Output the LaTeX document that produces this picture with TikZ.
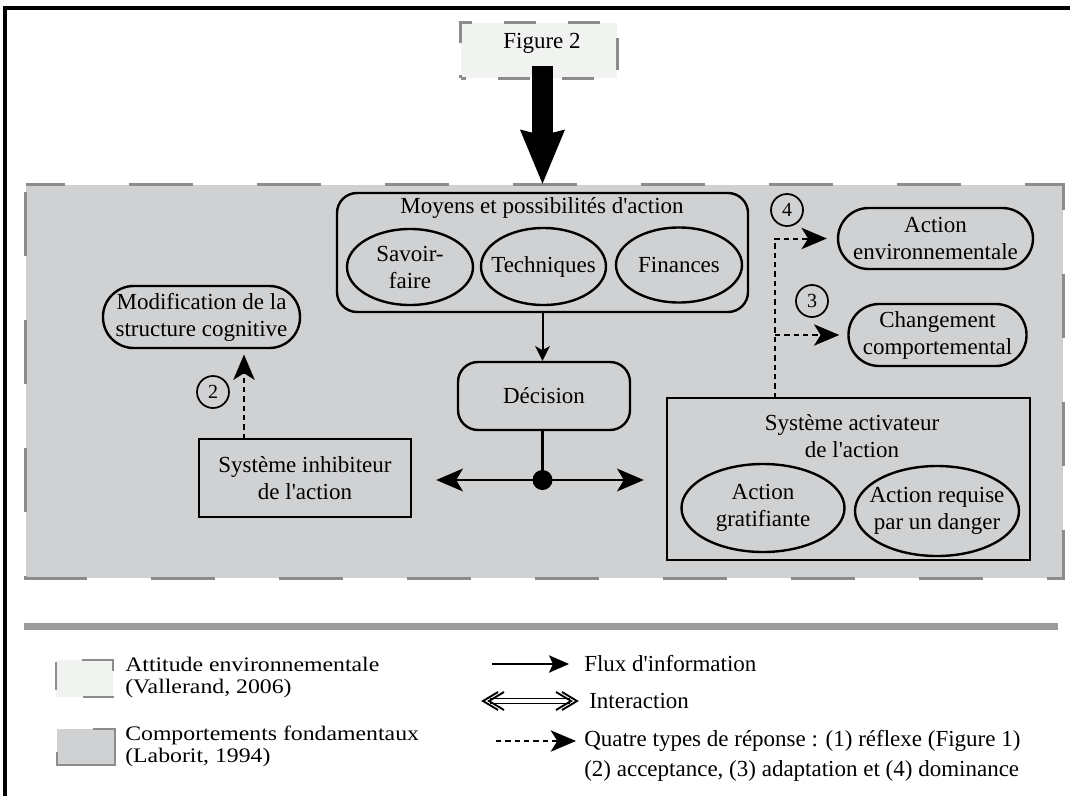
\documentclass[tikz,border=0pt]{standalone}
\usepackage{fontspec}
\setmainfont{Liberation Serif}
\newfontfamily\legfont{Liberation Serif}[FakeStretch=1.15]
\usetikzlibrary{arrows.meta,shapes.geometric,positioning,calc}
\newdimen\px \px=0.75pt

\definecolor{boxgray}{RGB}{208,209,211}
\definecolor{palegray}{RGB}{241,243,241}
\definecolor{dashgray}{RGB}{140,140,140}
\definecolor{sepgray}{RGB}{155,155,155}

\newcommand{\diagfont}{\fontsize{17.25}{20.25}\selectfont}

\tikzset{
  txt/.style={font=\diagfont,align=center,inner sep=0pt},
  boite/.style={txt,draw,line width=1.8pt},
  arrondi/.style={boite,rounded corners=15pt},
  ovale/.style={boite,ellipse,inner xsep=-10pt},
  pilule/.style={boite,rounded corners=23pt,minimum height=62\px},
  numero/.style={draw,circle,line width=1.3pt,minimum size=32\px,inner sep=0pt,font=\fontsize{15}{18}\selectfont},
  grisbord/.style={draw=dashgray,line width=2.25pt},
  flux/.style={line width=1.5pt,-{Stealth[length=11pt,width=11pt,inset=3pt]}},
  fluxlarge/.style={line width=2pt,-{Stealth[length=20pt,width=17pt,inset=5pt]}},
  reponse/.style={line width=1.5pt,dash pattern=on 4pt off 3pt,-{Stealth[length=19pt,width=16pt,inset=5pt]}},
  legleft/.style={font=\legfont\fontsize{15.5}{16.5}\selectfont,align=left,inner sep=0pt,anchor=west},
  legright/.style={font=\fontsize{17.25}{22.5}\selectfont,align=left,inner sep=0pt,anchor=west},
}

\begin{document}
\begin{tikzpicture}[x=0.75pt,y=-0.75pt]
\useasboundingbox (0,0) rectangle (1070,796);
\draw[line width=3pt] (5,796) -- (5,8) -- (1070,8);

% zone des comportements fondamentaux
\node[fill=boxgray,minimum width=1037\px,minimum height=393\px,inner sep=0pt] (main) at (544.5,381.5) {};
\draw[grisbord,dash pattern=on 48pt off 48pt,dash phase=18.75pt] (main.north west) -- (main.north east) -- (main.south east) -- (main.south west) -- cycle;

% Figure 2
\node[fill=palegray,minimum width=156\px,minimum height=55\px,inner sep=0pt] (fig) at (539,50.5) {};
\draw[grisbord,dash pattern=on 24pt off 24pt,dash phase=21.75pt] (fig.south west) -- (fig.north west) -- (fig.north east) -- (fig.south east) -- cycle;
\node[txt] (figlbl) at (542,43) {Figure 2};
\coordinate (ftop) at (542.5,66);
\draw[line width=15.75pt,-{Stealth[length=40pt,width=31pt,inset=3pt]}] (ftop) -- (ftop |- main.north);

% moyens d'action
\node[arrondi,minimum width=411\px,minimum height=119\px] (moyens) at (542.5,252.5) {};
\node[txt] (moyenstit) at (542,208) {Moyens et possibilités d\textquotesingle action};
\node[ovale,minimum width=126\px,minimum height=76\px] (savoir) at (410,267) {Savoir-\\faire};
\node[ovale,minimum width=125\px,minimum height=77\px] (tech) at (543.5,266.5) {Techniques};
\node[ovale,minimum width=126\px,minimum height=75\px] (fin) at (679,265) {Finances};

\node[arrondi,minimum width=172\px,minimum height=68\px] (dec) at (544,396) {Décision};
\node[circle,fill,inner sep=0pt,minimum size=20\px] (jn) at (542.5,480) {};
\draw[flux] (moyens.south) -- (moyens.south |- dec.north);
\draw[line width=2pt] (moyens.south |- dec.south) -- (jn.center);

% systeme inhibiteur
\node[boite,minimum width=212\px,minimum height=78\px] (inhib) at (305,478) {Système inhibiteur\\de l\textquotesingle action};
\node[pilule,minimum width=197\px] (modif) at (201.5,317) {Modification de la\\structure cognitive};
\node[numero] (n2) at (213,392) {2};
\coordinate (d2) at (244,439);
\draw[reponse,shorten >=4pt] (d2) -- (d2 |- modif.south);
\draw[fluxlarge,shorten >=18pt] (jn.center) -- (jn.center -| inhib.east);

% systeme activateur
\node[boite,minimum width=363\px,minimum height=162\px] (activ) at (848.5,479) {};
\node[txt] (activtit) at (852,436) {Système activateur\\de l\textquotesingle action};
\node[ovale,minimum width=163\px,minimum height=88\px] (grat) at (763,508) {Action\\gratifiante};
\node[ovale,minimum width=164\px,minimum height=90\px] (danger) at (937,511) {Action requise\\par un danger};
\draw[fluxlarge,shorten >=16.5pt] (jn.center) -- (jn.center -| activ.west);

\node[pilule,minimum width=195\px,minimum height=61\px] (env) at (935.5,238.5) {Action\\environnementale};
\node[pilule,minimum width=178\px] (chg) at (937.5,335) {Changement\\comportemental};
\node[numero] (n4) at (787,210) {4};
\node[numero] (n3) at (812,301) {3};
\coordinate (d34) at (775,398);
\draw[reponse,shorten >=7.5pt] (d34) |- (env.west);
\draw[reponse,shorten >=6pt] (d34 |- chg.west) -- (chg.west);

% legende
\draw[line width=5.25pt,sepgray] (24,626) -- (1058,626);

\node[fill=palegray,minimum width=57\px,minimum height=37\px,inner sep=0pt] (leg1) at (84.5,678.5) {};
\draw[draw=dashgray,line width=1.5pt,dash pattern=on 0pt off 19.5pt on 32.25pt off 18.75pt on 23.25pt off 26.25pt on 21pt off 50pt] (leg1.north west) -- (leg1.north east) -- (leg1.south east) -- (leg1.south west) -- cycle;
\node[legleft] (leg1txt) at (125,678) {Attitude environnementale\\(Vallerand, 2006)};

\node[fill=boxgray,minimum width=58\px,minimum height=36\px,inner sep=0pt] (leg2) at (86,747) {};
\draw[draw=dashgray,line width=1.5pt,dash pattern=on 0pt off 27pt on 98.25pt off 50pt] (leg2.north west) -- (leg2.north east) -- (leg2.south east) -- (leg2.south west) -- cycle;
\node[legleft] (leg2txt) at (125,746) {Comportements fondamentaux\\(Laborit, 1994)};

\coordinate (fa) at (492,664);
\coordinate (fb) at (569,664);
\draw[line width=1.5pt,-{Stealth[length=15pt,width=13pt,inset=3pt]}] (fa) -- (fb);
\node[legright] (fluxtxt) at (584,664) {Flux d\textquotesingle information};

\coordinate (ia) at (483,701);
\coordinate (ib) at (577,701);
\draw[line width=1.3pt,double distance=2.5pt] ($(ia)+(7,0)$) -- ($(ib)+(-7,0)$);
\draw[line width=1.4pt] ($(ia)+(15,-9)$) -- (ia) -- ($(ia)+(15,9)$);
\draw[line width=1.4pt] ($(ia)+(21,-9)$) -- ($(ia)+(6,0)$) -- ($(ia)+(21,9)$);
\draw[line width=1.4pt] ($(ib)+(-15,-9)$) -- (ib) -- ($(ib)+(-15,9)$);
\draw[line width=1.4pt] ($(ib)+(-21,-9)$) -- ($(ib)+(-6,0)$) -- ($(ib)+(-21,9)$);
\node[legright] (intertxt) at (589,701) {Interaction};

\coordinate (ra) at (496,741);
\coordinate (rb) at (576,741);
\draw[reponse] (ra) -- (rb);
\node[legright] (reptxt) at (584,756) {Quatre types de réponse : (1) réflexe (Figure 1)\\(2) acceptance, (3) adaptation et (4) dominance};
\end{tikzpicture}
\end{document}
